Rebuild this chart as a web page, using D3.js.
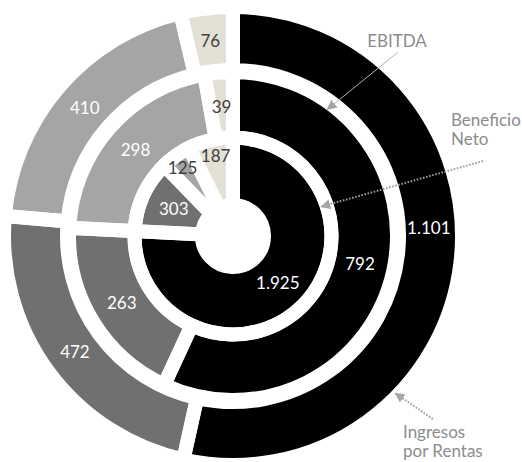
<!DOCTYPE html>
<html>
<head>
<meta charset="utf-8">
<script src="https://cdn.jsdelivr.net/npm/d3@7/dist/d3.min.js"></script>
<style>
  html, body { margin: 0; padding: 0; background: #fff; }
  svg { display: block; }
  text { font-family: Lato, "Noto Sans", sans-serif; }
</style>
</head>
<body>
<svg id="chart" width="522" height="462"></svg>
<script>
// ---- data ----
const categories = ["Segmento 1", "Segmento 2", "Segmento 3", "Segmento 4"];
const ringNames = ["Ingresos por Rentas", "EBITDA", "Beneficio Neto"];
const ingresosValues = [1101, 472, 410, 76];
const ebitdaValues = [792, 263, 298, 39];
const beneficioValues = [1925, 303, 125, 187];
const colors = ["#000000", "#707070", "#a5a5a5", "#e3e0d5"];
const labelColors = ["#ffffff", "#ffffff", "#ffffff", "#404040"];

// ---- layout ----
const W = 522, H = 462;
const cx = 233, cy = 236;
const gap = 14;
const rings = [
  { name: ringNames[0], values: ingresosValues, r0: 166, r1: 229, labelR: 196 },
  { name: ringNames[1], values: ebitdaValues, r0: 98.5, r1: 164, labelR: 130 },
  { name: ringNames[2], values: beneficioValues, r0: 31, r1: 98.5, labelR: 65 }
];
// label adjustments: [ringIndex, sliceIndex, angleShiftDeg, radiusShift, textColor]
const labelAdjust = [
  [0, 0, -8.5, 0, null],
  [2, 2, -1, 20, "#404040"],
  [2, 3, 1, 17, null]
];

const fmt = d3.formatLocale({ decimal: ",", thousands: ".", grouping: [3], currency: ["", ""] }).format(",d");

const svg = d3.select("#chart");
const g = svg.append("g").attr("transform", `translate(${cx},${cy})`);

const pie = d3.pie().sort(null).value(d => d.value).startAngle(0).endAngle(2 * Math.PI);

const ringData = rings.map((ring, ri) => {
  const arcs = pie(ring.values.map((v, i) => ({ value: v, cat: categories[i], i })));
  const arc = d3.arc().innerRadius(ring.r0).outerRadius(ring.r1);
  return { ring, ri, arcs, arc };
});

// fills
ringData.forEach(rd => {
  g.append("g").selectAll("path.fill").data(rd.arcs).join("path")
    .attr("class", "fill")
    .attr("d", rd.arc)
    .attr("fill", d => colors[d.data.i]);
});
// white separators
ringData.forEach(rd => {
  g.append("g").selectAll("path.sep").data(rd.arcs).join("path")
    .attr("class", "sep")
    .attr("d", rd.arc)
    .attr("fill", "none")
    .attr("stroke", "#fff")
    .attr("stroke-width", gap)
    .attr("stroke-linejoin", "miter");
});

// value labels
ringData.forEach(rd => {
  g.append("g").selectAll("text").data(rd.arcs).join("text")
    .each(function (d) {
      let a = (d.startAngle + d.endAngle) / 2;
      let r = rd.ring.labelR;
      let col = labelColors[d.data.i];
      labelAdjust.forEach(adj => {
        if (adj[0] === rd.ri && adj[1] === d.data.i) {
          a += adj[2] * Math.PI / 180;
          r += adj[3];
          if (adj[4]) col = adj[4];
        }
      });
      d3.select(this)
        .attr("x", r * Math.sin(a))
        .attr("y", -r * Math.cos(a))
        .attr("dy", "0.36em")
        .attr("text-anchor", "middle")
        .attr("font-size", 17)
        .attr("fill", col)
        .text(fmt(d.data.value));
    });
});

// annotations
const defs = svg.append("defs");
defs.append("marker")
  .attr("id", "arrowGray")
  .attr("viewBox", "0 0 10 10")
  .attr("refX", 9).attr("refY", 5)
  .attr("markerWidth", 10).attr("markerHeight", 10)
  .attr("markerUnits", "userSpaceOnUse")
  .attr("orient", "auto")
  .append("path").attr("d", "M0,0 L10,5 L0,10 Z").attr("fill", "#a6a6a6");

function polar(angDeg, r) {
  const a = angDeg * Math.PI / 180;
  return [r * Math.sin(a), -r * Math.cos(a)];
}

const annotations = [
  { lines: ["EBITDA"], tx: 397, ty: 47, anchor: "middle", from: [41.9, 247], to: [36.7, 158], dash: null, width: 1, color: "#b3b3b3" },
  { lines: ["Beneficio", "Neto"], tx: 451, ty: 126, anchor: "start", from: [73.3, 261], to: [71.6, 93], dash: "1.6,1.6", width: 2, color: "#9e9e9e" },
  { lines: ["Ingresos", "por Rentas"], tx: 403, ty: 438, anchor: "start", from: [132.5, 271], to: [134.1, 226], dash: "1.6,1.6", width: 2, color: "#9e9e9e" }
];

annotations.forEach(an => {
  const p0 = polar(an.from[0], an.from[1]);
  const p1 = polar(an.to[0], an.to[1]);
  g.append("line")
    .attr("x1", p0[0]).attr("y1", p0[1])
    .attr("x2", p1[0]).attr("y2", p1[1])
    .attr("stroke", an.color)
    .attr("stroke-width", an.width)
    .attr("stroke-dasharray", an.dash)
    .attr("marker-end", "url(#arrowGray)");
  const t = svg.append("text")
    .attr("x", an.tx).attr("y", an.ty)
    .attr("text-anchor", an.anchor)
    .attr("font-size", 17)
    .attr("fill", "#8c8c8c");
  an.lines.forEach((ln, k) => {
    t.append("tspan").attr("x", an.tx).attr("dy", k === 0 ? 0 : 19).text(ln);
  });
});
</script>
</body>
</html>
